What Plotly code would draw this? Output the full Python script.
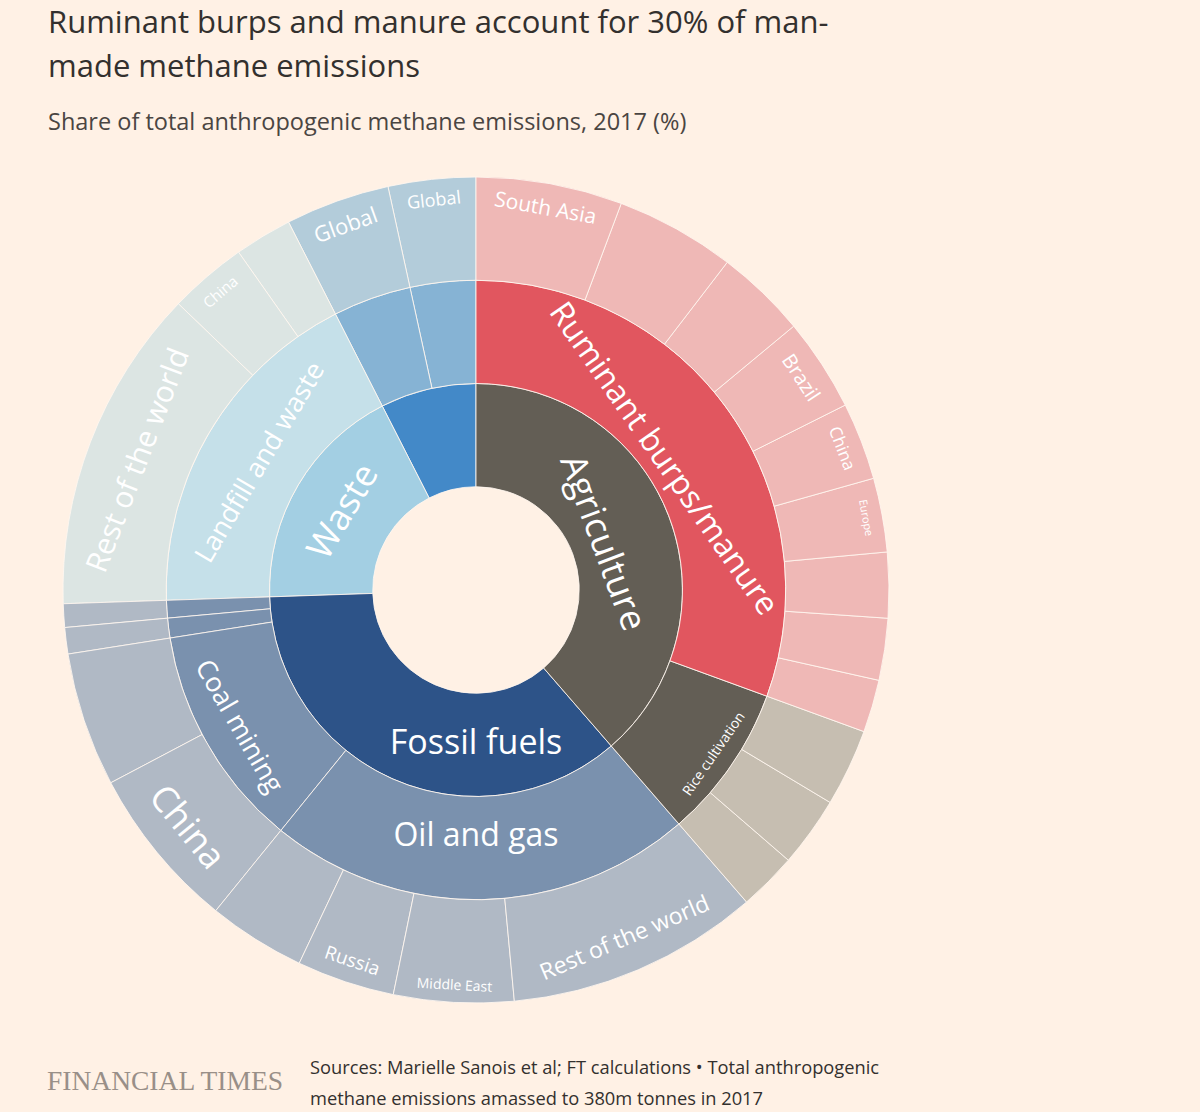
import plotly.graph_objects as go

# ---------------- data (read clockwise from 12 o'clock) ----------------
sectors = ["Agriculture", "Fossil fuels", "Waste", "Other"]
sector_text = ["Agriculture", "Fossil fuels", "Waste", ""]

subsectors = ["Ruminant burps/manure", "Rice cultivation", "Oil and gas", "Coal mining",
              "Other fossil A", "Other fossil B", "Landfill and waste",
              "Other source A", "Other source B"]
subsector_parents = ["Agriculture", "Agriculture", "Fossil fuels", "Fossil fuels",
                     "Fossil fuels", "Fossil fuels", "Waste", "Other", "Other"]
subsector_text = ["Ruminant burps/manure", "Rice cultivation", "Oil and gas", "Coal mining",
                  "", "", "Landfill and waste", "", ""]

region_names = [
    # Ruminant burps/manure
    "South Asia", "Region", "Region", "Brazil", "China", "Europe", "Region", "Region", "Region",
    # Rice cultivation
    "Region", "Region", "Region",
    # Oil and gas
    "Rest of the world", "Middle East", "Russia", "Region",
    # Coal mining
    "China", "Rest of the world",
    # small fossil sources
    "Global", "Global",
    # Landfill and waste
    "Rest of the world", "China", "Region",
    # Other
    "Global", "Global",
]
region_parents = (["Ruminant burps/manure"] * 9 + ["Rice cultivation"] * 3 +
                  ["Oil and gas"] * 4 + ["Coal mining"] * 2 +
                  ["Other fossil A", "Other fossil B"] +
                  ["Landfill and waste"] * 3 + ["Other source A", "Other source B"])
region_values = [5.72, 4.69, 3.56, 3.64, 3.03, 2.89, 2.56, 2.42, 2.06,
                 3.03, 2.75, 2.28,
                 9.89, 4.69, 3.83, 3.81,
                 6.42, 5.25,
                 1.03, 0.92,
                 12.72, 3.06, 2.25,
                 4.08, 3.42]
region_text = ["South Asia", "", "", "Brazil", "China", "Europe", "", "", "",
               "", "", "",
               "Rest of the world", "Middle East", "Russia", "",
               "China", "",
               "", "",
               "Rest of the world", "China", "",
               "Global", "Global"]

# ---------------- styles ----------------
BG = "#FFF1E5"
FONT = "Open Sans"
sector_colors = {"Agriculture": "#635E55", "Fossil fuels": "#2D5388",
                 "Waste": "#A3CFE3", "Other": "#4389C8"}
subsector_colors = {"Ruminant burps/manure": "#E1565F", "Rice cultivation": "#635E55",
                    "Oil and gas": "#7A91AE", "Coal mining": "#7A91AE",
                    "Other fossil A": "#7A91AE", "Other fossil B": "#7A91AE",
                    "Landfill and waste": "#C5E0E9",
                    "Other source A": "#86B3D4", "Other source B": "#86B3D4"}
region_colors = {"Ruminant burps/manure": "#EFB8B6", "Rice cultivation": "#C6BEB1",
                 "Oil and gas": "#B0B9C5", "Coal mining": "#B0B9C5",
                 "Other fossil A": "#B0B9C5", "Other fossil B": "#B0B9C5",
                 "Landfill and waste": "#DCE5E3",
                 "Other source A": "#B3CCDA", "Other source B": "#B3CCDA"}
sector_sizes = {"Agriculture": 36, "Fossil fuels": 34, "Waste": 36, "Other": 20}
subsector_sizes = {"Ruminant burps/manure": 36, "Rice cultivation": 14, "Oil and gas": 32,
                   "Coal mining": 27, "Landfill and waste": 27}
region_sizes = [21, 12, 12, 20, 17, 11, 12, 12, 12,
                12, 12, 12,
                23, 14, 19, 12,
                36, 12,
                10, 10,
                30, 15, 12,
                22, 18]

# ---------------- build hierarchy ----------------
sub_values = {s: 0.0 for s in subsectors}
for p, v in zip(region_parents, region_values):
    sub_values[p] += v
sec_values = {s: 0.0 for s in sectors}
for s, p in zip(subsectors, subsector_parents):
    sec_values[p] += sub_values[s]
total = sum(sec_values.values())

nodes = []  # (id, label, parent, value, text, color, size)
for s, t in zip(sectors, sector_text):
    nodes.append((s, s, "total", sec_values[s], t, sector_colors[s], sector_sizes[s]))
for s, p, t in zip(subsectors, subsector_parents, subsector_text):
    nodes.append((s, s, p, sub_values[s], t, subsector_colors[s], subsector_sizes.get(s, 12)))
for i, (n, p, v, t) in enumerate(zip(region_names, region_parents, region_values, region_text)):
    nodes.append((f"{p}/{n}/{i}", n, p, v, t, region_colors[p], region_sizes[i]))

# plotly lays sectors out counterclockwise -> reverse sibling order
nodes = nodes[::-1]
root = ("total", "Anthropogenic methane", "", total, "", BG, 10)
nodes = [root] + nodes

ids, labels, parents, values, texts, colors, sizes = map(list, zip(*nodes))
line_colors = [BG] + ["rgba(255,247,240,0.85)"] * (len(nodes) - 1)

W, H = 1200, 1112
cx, cy, R = 476, 590, 413

fig = go.Figure(go.Sunburst(
    ids=ids, labels=labels, parents=parents, values=values,
    branchvalues="total", sort=False, rotation=90,
    text=texts, texttemplate="%{text}",
    insidetextorientation="tangential",
    textfont=dict(family=FONT, size=sizes, color="white"),
    marker=dict(colors=colors, line=dict(color=line_colors, width=1)),
    leaf=dict(opacity=1),
    domain=dict(x=[(cx - R) / W, (cx + R) / W], y=[(H - cy - R) / H, (H - cy + R) / H]),
    hoverinfo="label+value",
))

ann = [
    dict(text="Ruminant burps and manure account for 30% of man-", x=46 / W, y=1 - 21 / H,
         font=dict(size=31, color="#33302E", family=FONT)),
    dict(text="made methane emissions", x=46 / W, y=1 - 65 / H,
         font=dict(size=31, color="#33302E", family=FONT)),
    dict(text="Share of total anthropogenic methane emissions, 2017 (%)", x=46 / W, y=1 - 121 / H,
         font=dict(size=23.5, color="#4A4542", family=FONT)),
    dict(text="FINANCIAL TIMES", x=45 / W, y=1 - 1080 / H,
         font=dict(size=27.5, color="#998F88", family="Liberation Serif")),
    dict(text="Sources: Marielle Sanois et al; FT calculations \u2022 Total anthropogenic",
         x=308 / W, y=1 - 1066 / H, font=dict(size=18.3, color="#33302E", family=FONT)),
    dict(text="methane emissions amassed to 380m tonnes in 2017",
         x=308 / W, y=1 - 1097 / H, font=dict(size=18.3, color="#33302E", family=FONT)),
]
for a in ann:
    a.update(xref="paper", yref="paper", xanchor="left", yanchor="middle", showarrow=False)

fig.update_layout(
    width=W, height=H, margin=dict(l=0, r=0, t=0, b=0),
    paper_bgcolor=BG, plot_bgcolor=BG, annotations=ann, showlegend=False,
)
fig.write_html(
    "out.html",
    config={"displayModeBar": False},
    post_script=("document.body.style.margin='0';"
                 "document.body.style.background='#FFF1E5';"
                 "document.documentElement.style.overflow='hidden';"),
)
